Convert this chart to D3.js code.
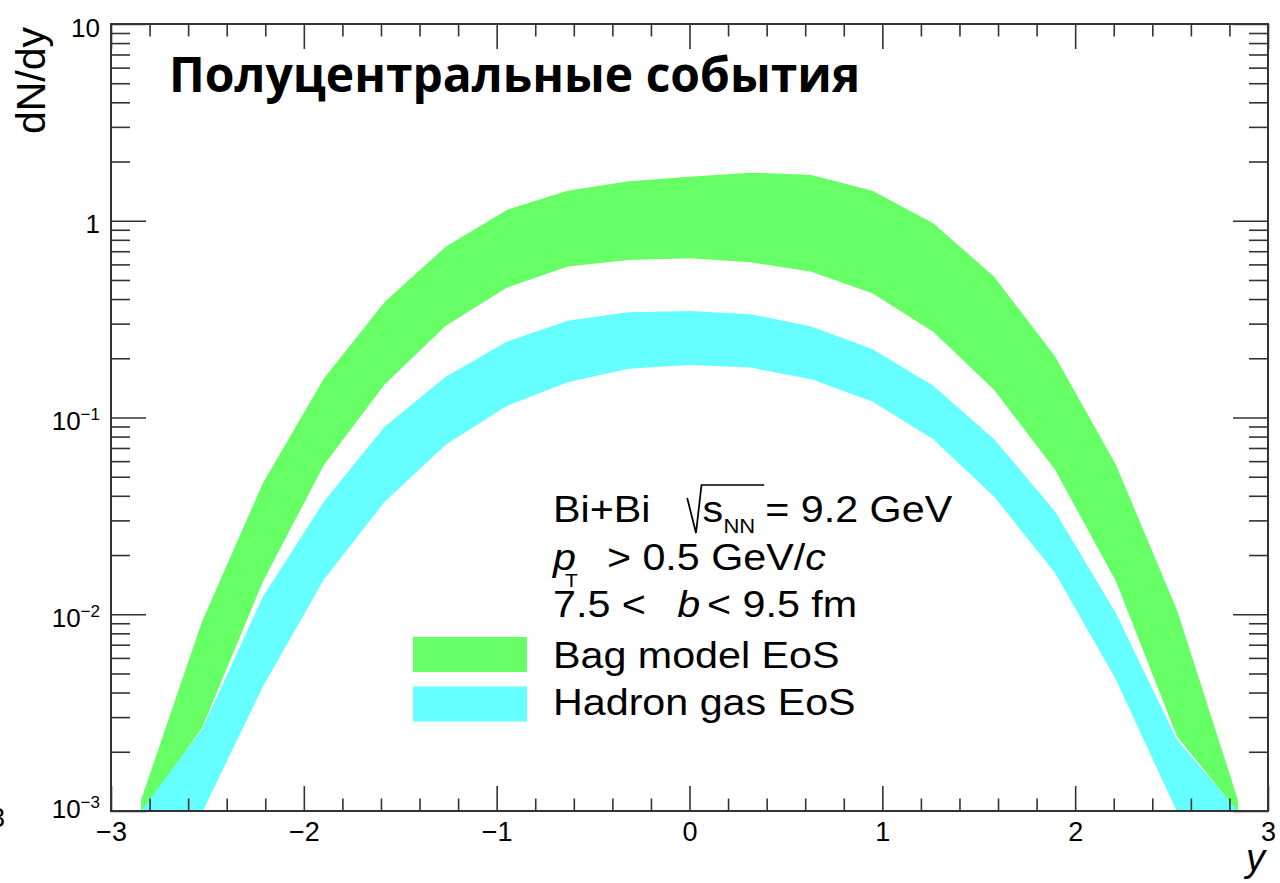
<!DOCTYPE html>
<html>
<head>
<meta charset="utf-8">
<script src="https://cdn.jsdelivr.net/npm/d3@7"></script>
<style>
  body { margin: 0; background: #fff; }
  svg { display: block; font-family: "Liberation Sans", Arial, sans-serif; }
</style>
</head>
<body>
<svg id="chart" width="1280" height="883"></svg>
<script>
// rapidity bins (centres)
var rapidity = [-2.844, -2.528, -2.212, -1.896, -1.58, -1.264, -0.948, -0.632, -0.316, 0,
                0.316, 0.632, 0.948, 1.264, 1.58, 1.896, 2.212, 2.528, 2.844];
// Bag model EoS band
var bagUpper = [0.00114, 0.00918, 0.0464, 0.158, 0.388, 0.738, 1.135, 1.42, 1.59, 1.675,
                1.756, 1.71, 1.42, 0.971, 0.520, 0.204, 0.0574, 0.0105, 0.00114];
var bagLower = [0.00097, 0.00264, 0.01466, 0.0574, 0.1476, 0.293, 0.457, 0.585, 0.632, 0.645,
                0.615, 0.551, 0.428, 0.273, 0.138, 0.0542, 0.01466, 0.00239, 0.00099];
// Hadron gas EoS band
var hadronUpper = [0.001, 0.0026, 0.0123, 0.0374, 0.0899, 0.161, 0.243, 0.310, 0.343, 0.348,
                   0.335, 0.290, 0.223, 0.145, 0.0776, 0.0333, 0.0101, 0.0023, 0.001];
var hadronLower = [0.0002, 0.00098, 0.00429, 0.0150, 0.0374, 0.0726, 0.1145, 0.151, 0.1767, 0.185,
                   0.1794, 0.1566, 0.1205, 0.0776, 0.0396, 0.0162, 0.00464, 0.00099, 0.0002];

var xMajor = [-3, -2, -1, 0, 1, 2, 3];
var yMajor = [1e-3, 1e-2, 1e-1, 1, 10];
var yLabels = [["10", "−3"], ["10", "−2"], ["10", "−1"], ["1", ""], ["10", ""]];

var bands = [
    {name: "Bag model EoS", color: "#66ff66", hi: bagUpper, lo: bagLower},
    {name: "Hadron gas EoS", color: "#66ffff", hi: hadronUpper, lo: hadronLower}
];

// plot frame (window.top is read-only, so use an object)
var frame = {l: 111, r: 1268, t: 24, b: 811};

var svg = d3.select("#chart");
svg.append("rect").attr("width", 1280).attr("height", 883).attr("fill", "#fff");

var x = d3.scaleLinear().domain([-3, 3]).range([frame.l, frame.r]);
var y = d3.scaleLog().domain([1e-3, 10]).range([frame.b, frame.t]);

svg.append("clipPath").attr("id", "plot")
    .append("rect").attr("x", frame.l).attr("y", frame.t)
    .attr("width", frame.r - frame.l).attr("height", frame.b - frame.t);

// bands
var area = d3.area()
    .x(function(d) { return x(d.y); })
    .y0(function(d) { return y(d.lo); })
    .y1(function(d) { return y(d.hi); });

bands.forEach(function(b) {
    var pts = rapidity.map(function(r, i) { return {y: r, lo: b.lo[i], hi: b.hi[i]}; });
    svg.append("path")
        .datum(pts)
        .attr("clip-path", "url(#plot)")
        .attr("fill", b.color)
        .attr("d", area);
});

// axes (ticks point inward, ROOT style)
var axisColor = "#333";
function styleAxis(g) {
    g.select(".domain").remove();
    g.selectAll(".tick line").attr("stroke", axisColor).attr("stroke-width", 1.6);
}

var xMinor = x.ticks(30).filter(function(v) { return xMajor.indexOf(v) < 0; });
var yMinor = y.ticks().filter(function(v) { return yMajor.indexOf(v) < 0; });

svg.append("g").attr("transform", "translate(0," + frame.b + ")")
    .call(d3.axisBottom(x).tickValues(xMinor).tickSize(-12.5).tickFormat(""))
    .call(styleAxis);
var gxb = svg.append("g").attr("transform", "translate(0," + frame.b + ")")
    .call(d3.axisBottom(x).tickValues(xMajor).tickSize(-25).tickPadding(11).tickFormat(d3.format("d")))
    .call(styleAxis);
gxb.selectAll("text").attr("font-size", 27).attr("fill", "#000")
    .attr("font-family", "Liberation Sans, Arial, sans-serif");

svg.append("g").attr("transform", "translate(0," + frame.t + ")")
    .call(d3.axisTop(x).tickValues(xMinor).tickSize(-12.5).tickFormat(""))
    .call(styleAxis);
svg.append("g").attr("transform", "translate(0," + frame.t + ")")
    .call(d3.axisTop(x).tickValues(xMajor).tickSize(-25).tickFormat(""))
    .call(styleAxis);

svg.append("g").attr("transform", "translate(" + frame.l + ",0)")
    .call(d3.axisLeft(y).tickValues(yMinor).tickSize(-19).tickFormat(""))
    .call(styleAxis);
var gyl = svg.append("g").attr("transform", "translate(" + frame.l + ",0)")
    .call(d3.axisLeft(y).tickValues(yMajor).tickSize(-35).tickFormat(""))
    .call(styleAxis);
svg.append("g").attr("transform", "translate(" + frame.r + ",0)")
    .call(d3.axisRight(y).tickValues(yMinor).tickSize(-19).tickFormat(""))
    .call(styleAxis);
svg.append("g").attr("transform", "translate(" + frame.r + ",0)")
    .call(d3.axisRight(y).tickValues(yMajor).tickSize(-35).tickFormat(""))
    .call(styleAxis);

// y tick labels with exponents
gyl.selectAll(".tick").each(function(d, i) {
    var lab = yLabels[i];
    var t = d3.select(this).select("text")
        .attr("x", -11).attr("dy", null)
        .attr("y", d === 1e-3 ? 6 : 12)
        .attr("font-size", 26).attr("fill", "#000")
        .attr("font-family", "Liberation Sans, Arial, sans-serif")
        .attr("text-anchor", "end");
    t.append("tspan").text(lab[0]);
    if (lab[1]) t.append("tspan").attr("dy", -10).attr("font-size", 17).text(lab[1]);
});

// frame
svg.append("rect")
    .attr("x", frame.l).attr("y", frame.t)
    .attr("width", frame.r - frame.l).attr("height", frame.b - frame.t)
    .attr("fill", "none").attr("stroke", axisColor).attr("stroke-width", 2);

// axis titles
svg.append("text")
    .attr("transform", "translate(45,27) rotate(-90)")
    .attr("text-anchor", "end")
    .attr("font-size", 41)
    .text("dN/dy");
svg.append("text")
    .attr("x", 1265).attr("y", 871)
    .attr("text-anchor", "end")
    .attr("font-size", 38).attr("font-style", "italic")
    .text("y");
// leftover label of the neighbouring panel
svg.append("text").attr("x", 5).attr("y", 827).attr("text-anchor", "end")
    .attr("font-size", 27).text("3");

// title
svg.append("text")
    .attr("x", 169).attr("y", 92)
    .attr("font-family", "Open Sans, Noto Sans, sans-serif")
    .attr("font-weight", "bold")
    .attr("font-size", 48)
    .text("Полуцентральные события");

// legend / info text (glyphs are a bit wide in the original, hence the x-stretch)
var leg = svg.append("g")
    .attr("transform", "translate(553,0) scale(1.1,1) translate(-553,0)")
    .attr("font-size", 37.5).attr("fill", "#000");

leg.append("text").attr("x", 553).attr("y", 522).text("Bi+Bi");
leg.append("path")
    .attr("d", "M675,498 L683,533 L688,485 L745,485")
    .attr("fill", "none").attr("stroke", "#000").attr("stroke-width", 1.6);
leg.append("text").attr("x", 689).attr("y", 522).text("s");
leg.append("text").attr("x", 708).attr("y", 533).attr("font-size", 20).text("NN");
leg.append("text").attr("x", 746).attr("y", 522).text("= 9.2 GeV");

var l2 = leg.append("text").attr("x", 553).attr("y", 570);
l2.append("tspan").attr("font-style", "italic").text("p");
l2.append("tspan").attr("x", 602).text("> 0.5 GeV/");
l2.append("tspan").attr("font-style", "italic").text("c");
leg.append("text").attr("x", 564).attr("y", 587).attr("font-size", 19).text("T");

var l3 = leg.append("text").attr("x", 553).attr("y", 617);
l3.append("tspan").text("7.5 <");
l3.append("tspan").attr("x", 666).attr("font-style", "italic").text("b");
l3.append("tspan").attr("x", 693).text("< 9.5 fm");

bands.forEach(function(b, i) {
    svg.append("rect")
        .attr("x", 413).attr("y", 637 + i * 49.5)
        .attr("width", 114).attr("height", 35)
        .attr("fill", b.color);
    leg.append("text").attr("x", 553).attr("y", 668 + i * 47).text(b.name);
});
</script>
</body>
</html>
